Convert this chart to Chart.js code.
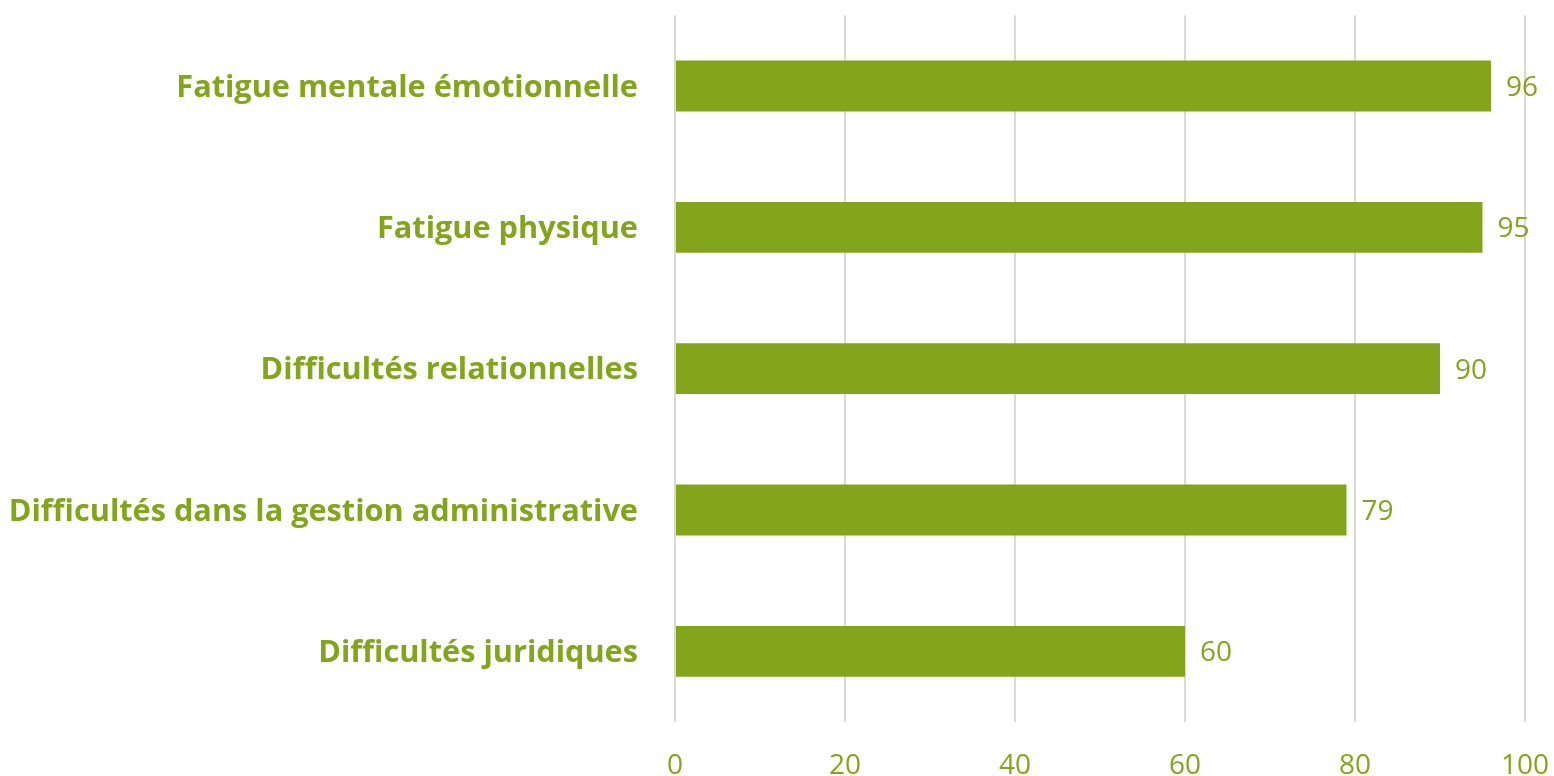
<!DOCTYPE html>
<html><head><meta charset="utf-8">
<script src="https://cdn.jsdelivr.net/npm/chart.js@4"></script>
<style>html,body{margin:0;padding:0;background:#fff}#wrap{width:1554px;height:776px}</style>
</head><body><div id="wrap"><canvas id="c"></canvas></div>
<script>
const categories = ["Fatigue mentale émotionnelle","Fatigue physique","Difficultés relationnelles","Difficultés dans la gestion administrative","Difficultés juridiques"];
const values = [96,95,90,79,60];
const xTicks = [0,20,40,60,80,100];
const GREEN = '#83A51C';
const FONT = '"Open Sans", Lato, sans-serif';

const valueLabels = {
  id:'valueLabels',
  afterDatasetsDraw(chart){
    const ctx = chart.ctx;
    const meta = chart.getDatasetMeta(0);
    ctx.save();
    ctx.font = '28px ' + FONT;
    ctx.fillStyle = GREEN;
    ctx.textAlign = 'left';
    ctx.textBaseline = 'middle';
    meta.data.forEach((bar,i)=>{
      ctx.fillText(String(values[i]), bar.x + 15, bar.y + 2);
    });
    ctx.restore();
  }
};

new Chart(document.getElementById('c'),{
  type:'bar',
  data:{labels:categories,datasets:[{data:values,backgroundColor:GREEN,borderWidth:0,barPercentage:0.36,categoryPercentage:1}]},
  options:{
    indexAxis:'y',responsive:true,maintainAspectRatio:false,animation:false,
    layout:{padding:{top:15,right:29,left:0,bottom:0}},
    plugins:{legend:{display:false},tooltip:{enabled:false}},
    scales:{
      x:{min:0,max:100,
        afterBuildTicks(s){s.ticks = xTicks.map(v=>({value:v}));},
        grid:{color:'#d9d9d9',lineWidth:2,drawTicks:true,tickLength:30,tickColor:'rgba(0,0,0,0)'},border:{display:false},
        ticks:{color:GREEN,font:{family:FONT,size:28,lineHeight:1},padding:0},
        afterFit(s){s.height=54;}
      },
      y:{grid:{display:true,color:'rgba(0,0,0,0)',drawTicks:true,tickLength:37,tickColor:'rgba(0,0,0,0)'},border:{display:false},
        ticks:{color:GREEN,font:{family:FONT,size:30.7,weight:'bold',lineHeight:1},padding:0,labelOffset:2},
        afterFit(s){s.width=675;}
      }
    }
  },
  plugins:[valueLabels]
});
</script></body></html>
